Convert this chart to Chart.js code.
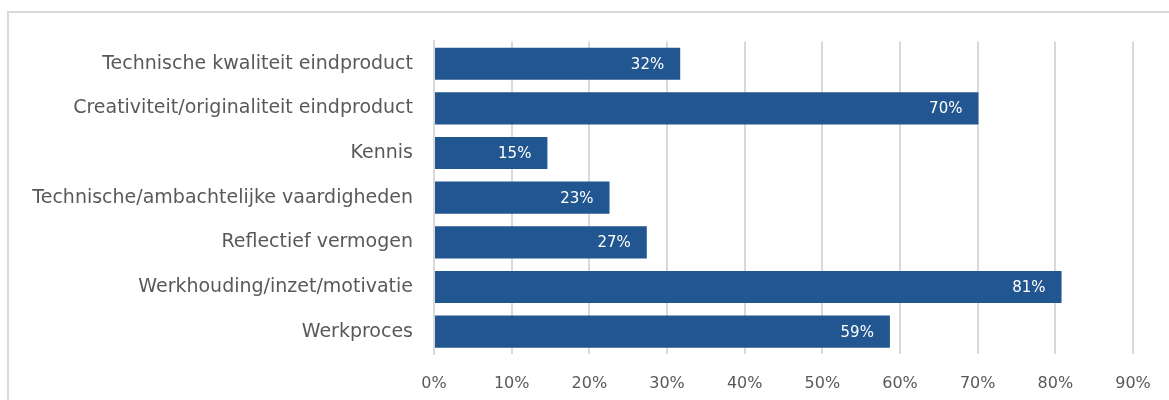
<!DOCTYPE html>
<html>
<head>
<meta charset="utf-8">
<script src="https://cdn.jsdelivr.net/npm/chart.js@4.4.1/dist/chart.umd.min.js"></script>
<style>
  body { margin: 0; background: #fff; overflow: hidden; }
  #frame { position: absolute; left: 7px; top: 11px; width: 1170px; height: 395px; border: 2px solid #d9d9d9; }
  #chart { display: block; position: absolute; left: 0; top: -4px; }
</style>
</head>
<body>
<div id="frame"><canvas id="chart" width="1170" height="395"></canvas></div>
<script>
const categories = [
    'Technische kwaliteit eindproduct',
    'Creativiteit/originaliteit eindproduct',
    'Kennis',
    'Technische/ambachtelijke vaardigheden',
    'Reflectief vermogen',
    'Werkhouding/inzet/motivatie',
    'Werkproces'
];
const percentages = [31.7, 70.1, 14.6, 22.6, 27.4, 80.8, 58.7];
const tickLabels = ['0%', '10%', '20%', '30%', '40%', '50%', '60%', '70%', '80%', '90%'];

const labelFont = "'DejaVu Sans', sans-serif";

// --- Value labels inside the bar ends ---
const barLabels = {
    id: 'barLabels',
    afterDatasetsDraw(chart) {
        const ctx = chart.ctx;
        const meta = chart.getDatasetMeta(0);
        ctx.save();
        ctx.fillStyle = '#ffffff';
        ctx.font = '15px ' + labelFont;
        ctx.textAlign = 'right';
        ctx.textBaseline = 'middle';
        meta.data.forEach((bar, i) => {
            ctx.fillText(Math.round(percentages[i]) + '%', bar.x - 16, bar.y + 1);
        });
        ctx.restore();
    }
};

new Chart(document.getElementById('chart'), {
    type: 'bar',
    data: {
        labels: categories,
        datasets: [{
            data: percentages,
            backgroundColor: '#225691',
            borderWidth: 0,
            barPercentage: 0.72,
            categoryPercentage: 1
        }]
    },
    options: {
        indexAxis: 'y',
        responsive: false,
        animation: false,
        layout: { padding: { top: 24, right: 46, bottom: 0, left: 0 } },
        plugins: { legend: { display: false }, tooltip: { enabled: false } },
        scales: {
            x: {
                min: 0,
                max: 90,
                afterFit: axis => { axis.height = 50; },
                afterBuildTicks: axis => {
                    axis.ticks = tickLabels.map((t, i) => ({ value: i * 10 }));
                },
                grid: { color: '#d9d9d9', lineWidth: 2, drawTicks: false },
                border: { display: false },
                ticks: {
                    color: '#595959',
                    font: { family: labelFont, size: 16 },
                    padding: 20,
                    maxRotation: 0,
                    callback: (v, i) => tickLabels[i]
                }
            },
            y: {
                afterFit: axis => { axis.width = 425; },
                grid: { display: false, drawTicks: false },
                border: { display: true, color: '#d9d9d9', width: 2 },
                ticks: {
                    color: '#595959',
                    font: { family: labelFont, size: 19 },
                    padding: 21
                }
            }
        }
    },
    plugins: [barLabels]
});
</script>
</body>
</html>
